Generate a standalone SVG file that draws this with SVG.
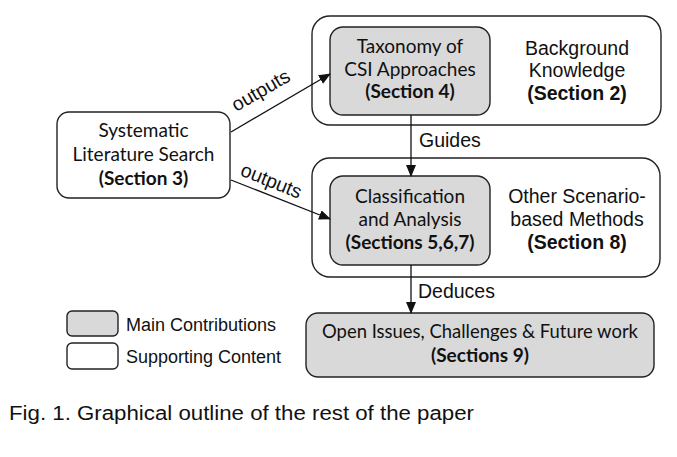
<svg xmlns="http://www.w3.org/2000/svg" width="677" height="457" viewBox="0 0 677 457">
<style>
.box{fill:#ffffff;stroke:#222;stroke-width:1.4}
.main{fill:#d9d9d9;stroke:#222;stroke-width:1.4}
.c{font-family:Lato,"Noto Sans",sans-serif;font-size:19px;fill:#111;text-anchor:middle}
.a{font-family:"Liberation Sans",Arial,sans-serif;font-size:19.5px;fill:#111}
.m{text-anchor:middle}
.b{font-weight:bold}
.conn{stroke:#111;stroke-width:1.3;fill:none;marker-end:url(#ah)}
</style>
<defs>
<marker id="ah" markerUnits="userSpaceOnUse" markerWidth="12" markerHeight="10" refX="11" refY="5" orient="auto">
<path d="M0,0 L12,5 L0,10 Z" fill="#111"/>
</marker>
</defs>
<rect width="677" height="457" fill="#fff"/>
<g id="background">
<rect class="box" x="312" y="16" width="349" height="109" rx="18"/>
<text class="a m" x="577" y="55">Background</text>
<text class="a m" x="577" y="77">Knowledge</text>
<text class="a m b" x="577" y="100">(Section 2)</text>
</g>
<g id="taxonomy">
<rect class="main" x="330" y="27" width="160" height="88" rx="13"/>
<text class="c" x="410" y="53">Taxonomy of</text>
<text class="c" x="410" y="76">CSI Approaches</text>
<text class="c b" x="410" y="98">(Section 4)</text>
</g>
<g id="other">
<rect class="box" x="312" y="158" width="348" height="119" rx="18"/>
<text class="a m" x="577" y="203">Other Scenario-</text>
<text class="a m" x="577" y="226">based Methods</text>
<text class="a m b" x="577" y="249">(Section 8)</text>
</g>
<g id="classification">
<rect class="main" x="330" y="176" width="160" height="89" rx="13"/>
<text class="c" x="410" y="203">Classification</text>
<text class="c" x="410" y="226">and Analysis</text>
<text class="c b" x="410" y="249">(Sections 5,6,7)</text>
</g>
<g id="search">
<rect class="box" x="57" y="112" width="173" height="86" rx="12"/>
<text class="c" x="143.5" y="137">Systematic</text>
<text class="c" x="143.5" y="161">Literature Search</text>
<text class="c b" x="143.5" y="185">(Section 3)</text>
</g>
<g id="open">
<rect class="main" x="306" y="313" width="348" height="64" rx="12"/>
<text class="c" x="480" y="338" textLength="316" lengthAdjust="spacingAndGlyphs">Open Issues, Challenges &amp; Future work</text>
<text class="c b" x="480" y="362">(Sections 9)</text>
</g>
<g id="legend">
<rect class="main" x="67" y="311" width="51" height="25" rx="5"/>
<rect class="box" x="67" y="343" width="51" height="26" rx="5"/>
<text class="a" x="126" y="331" style="font-size:18px">Main Contributions</text>
<text class="a" x="126" y="363" style="font-size:18px">Supporting Content</text>
</g>
<g id="connectors">
<line class="conn" x1="231" y1="132" x2="330" y2="74"/>
<line class="conn" x1="231" y1="180" x2="330" y2="219"/>
<line class="conn" x1="411" y1="115" x2="411" y2="176"/>
<line class="conn" x1="411" y1="265" x2="411" y2="313"/>
<text class="a m" transform="translate(264,96) rotate(-30)">outputs</text>
<text class="a m" transform="translate(269,187) rotate(22)">outputs</text>
<text class="a" x="419" y="147">Guides</text>
<text class="a" x="418" y="298">Deduces</text>
</g>
<text class="a" x="9" y="420" style="font-size:20px" textLength="465" lengthAdjust="spacingAndGlyphs">Fig. 1. Graphical outline of the rest of the paper</text>
</svg>
